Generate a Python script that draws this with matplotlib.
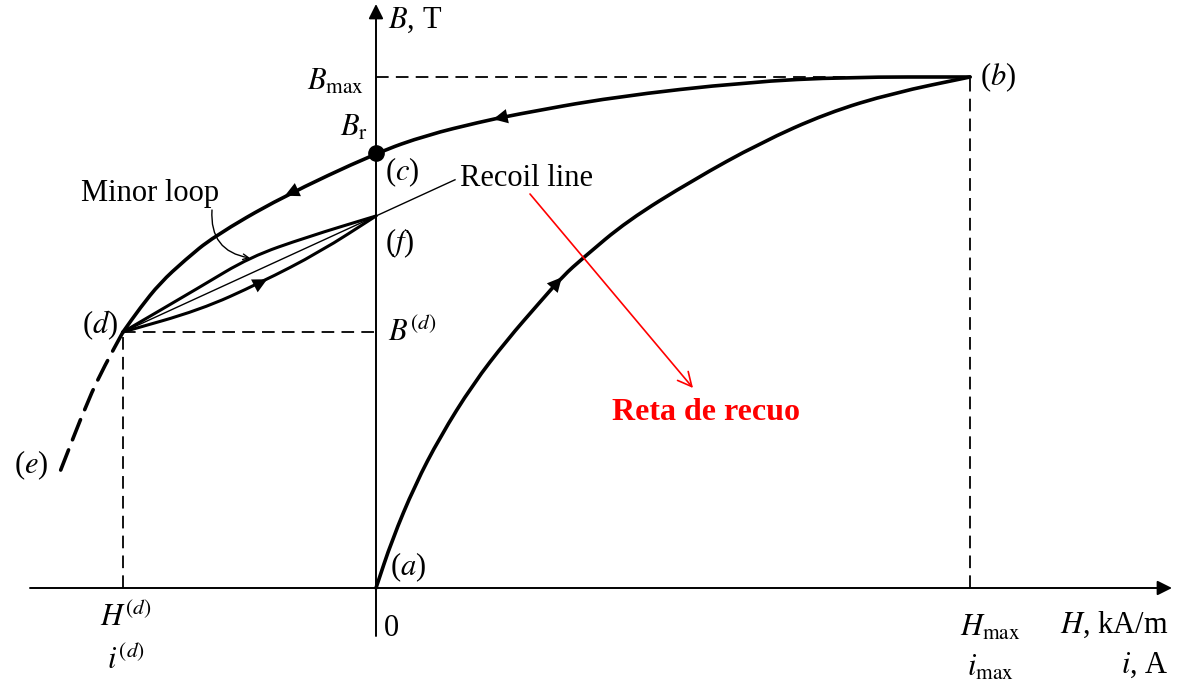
import numpy as np
import matplotlib.pyplot as plt
from matplotlib.path import Path
from matplotlib.patches import PathPatch

plt.rcParams['font.family'] = ['Liberation Serif', 'DejaVu Serif']
plt.rcParams['mathtext.fontset'] = 'stix'

# всё в долях: H / Hmax, B / Bmax
h_initial = [0.0, 0.0269, 0.0657, 0.1077, 0.1633, 0.2205, 0.2761, 0.3148,
             0.3485, 0.4226, 0.5337, 0.6465, 0.7593, 0.8704, 1.0]
b_initial = [0.0, 0.0939, 0.2016, 0.2955, 0.3992, 0.4853, 0.5597, 0.6106,
             0.6458, 0.7182, 0.7984, 0.8708, 0.9295, 0.9687, 1.0]

h_demag = [1.0, 0.7929, 0.6246, 0.3990, 0.2306, 0.1751, 0.0859, 0.0,
           -0.1616, -0.2744, -0.3215, -0.3636, -0.3973, -0.4259]
b_demag = [1.0, 1.0, 0.9902, 0.9609, 0.9256, 0.9119, 0.8865, 0.8513,
           0.7632, 0.6869, 0.6419, 0.5969, 0.5479, 0.501]

h_tail = [-0.4259, -0.4562, -0.4848, -0.5354]
b_tail = [0.501, 0.4364, 0.3679, 0.2172]

h_minor_up = [-0.4259, -0.2963, -0.2121, -0.1162, 0.0]
b_minor_up = [0.501, 0.589, 0.6477, 0.6869, 0.728]
h_minor_lo = [-0.4259, -0.2963, -0.1953, -0.0943, 0.0]
b_minor_lo = [0.501, 0.544, 0.5969, 0.6575, 0.728]

B_R = 0.8513
H_D, B_D = -0.4259, 0.501
B_F = 0.728
H_RECOIL_END = 0.133

# пиксели -> данные (картинка 1187x691, начало координат в (376, 588))
X0, Y0, SX, SY = 376, 588, 594, 511


def px(x, y):
    return (x - X0) / SX, (Y0 - y) / SY


def smooth(h, b):
    # сглаженная ломаная: квадратичные кривые Безье через середины отрезков
    pts = np.column_stack([h, b])
    mids = (pts[:-1] + pts[1:]) / 2
    verts = [pts[0], mids[0]]
    codes = [Path.MOVETO, Path.LINETO]
    for i in range(1, len(pts) - 1):
        verts += [pts[i], mids[i]]
        codes += [Path.CURVE3, Path.CURVE3]
    verts.append(pts[-1])
    codes.append(Path.LINETO)
    return Path(verts, codes)


fig = plt.figure(figsize=(11.87, 6.91), dpi=100)
ax = fig.add_axes([0, 0, 1, 1])
ax.set_xlim(px(0, 0)[0], px(1187, 0)[0])
ax.set_ylim(px(0, 691)[1], px(0, 0)[1])
ax.axis('off')

# оси со стрелками
ax.annotate('', xy=px(1172, 588), xytext=px(30, 588),
            arrowprops=dict(arrowstyle='-|>', color='black', lw=1.4,
                            mutation_scale=22, shrinkA=0, shrinkB=0))
ax.annotate('', xy=px(376, 4), xytext=px(376, 636),
            arrowprops=dict(arrowstyle='-|>', color='black', lw=1.4,
                            mutation_scale=22, shrinkA=0, shrinkB=0))

# пунктир
dash = dict(color='black', lw=1.3, dashes=(7, 4))
ax.plot([0, 1], [1, 1], **dash)
ax.plot([1, 1], [0, 1], **dash)
ax.plot([H_D, 0], [B_D, B_D], **dash)
ax.plot([H_D, H_D], [0, B_D], **dash)

for h, b, lw, ls in [(h_initial, b_initial, 2.6, '-'),
                     (h_demag, b_demag, 2.6, '-'),
                     (h_tail, b_tail, 2.6, (0, (6, 3))),
                     (h_minor_up, b_minor_up, 2.2, '-'),
                     (h_minor_lo, b_minor_lo, 2.2, '-')]:
    ax.add_patch(PathPatch(smooth(h, b), fill=False, ec='black', lw=lw, ls=ls,
                           capstyle='round', joinstyle='round'))

# recoil line
k = (B_F - B_D) / (0 - H_D)
ax.plot([H_D, H_RECOIL_END], [B_D, B_F + k * H_RECOIL_END], color='black', lw=1.0)

ax.plot([0], [B_R], 'o', color='black', ms=11)


def arrow_on(h, b, i, frac=0.5):
    x1, y1 = h[i], b[i]
    x0, y0 = h[i - 1], b[i - 1]
    xm, ym = x0 + (x1 - x0) * frac, y0 + (y1 - y0) * frac
    ax.annotate('', xy=(xm, ym), xytext=(xm - (x1 - x0) * 0.05, ym - (y1 - y0) * 0.05),
                arrowprops=dict(arrowstyle='-|>', color='black', lw=0,
                                mutation_scale=26, shrinkA=0, shrinkB=0))


arrow_on(h_initial, b_initial, 7, 0.95)
arrow_on(h_demag, b_demag, 5, 0.6)
arrow_on(h_demag, b_demag, 8, 0.95)
arrow_on(h_minor_lo, b_minor_lo, 3, 0.12)

# подписи
fs = 22
ax.text(*px(388, 20), '$B$, T', fontsize=fs, va='center', ha='left')
ax.text(*px(364, 82), r'$B_{\rm max}$', fontsize=fs, va='center', ha='right')
ax.text(*px(368, 128), r'$B_{\rm r}$', fontsize=fs, va='center', ha='right')
ax.text(*px(385, 172), '($c$)', fontsize=fs, va='center', ha='left')
ax.text(*px(385, 243), '($f$)', fontsize=fs, va='center', ha='left')
ax.text(*px(388, 332), '$B^{(d)}$', fontsize=fs, va='center', ha='left')
ax.text(*px(118, 325), '($d$)', fontsize=fs, va='center', ha='right')
ax.text(*px(48, 465), '($e$)', fontsize=fs, va='center', ha='right')
ax.text(*px(390, 567), '($a$)', fontsize=fs, va='center', ha='left')
ax.text(*px(980, 77), '($b$)', fontsize=fs, va='center', ha='left')
ax.text(*px(126, 617), '$H^{(d)}$', fontsize=fs, va='center', ha='center')
ax.text(*px(126, 660), '$i^{(d)}$', fontsize=fs, va='center', ha='center')
ax.text(*px(384, 628), '0', fontsize=fs, va='center', ha='left')
ax.text(*px(990, 628), r'$H_{\rm max}$', fontsize=fs, va='center', ha='center')
ax.text(*px(990, 668), r'$i_{\rm max}$', fontsize=fs, va='center', ha='center')
ax.text(*px(1168, 625), '$H$, kA/m', fontsize=fs, va='center', ha='right')
ax.text(*px(1168, 665), '$i$, A', fontsize=fs, va='center', ha='right')

ax.text(*px(150, 193), 'Minor loop', fontsize=fs, va='center', ha='center')
ax.annotate('', xy=px(250, 258), xytext=px(212, 210),
            arrowprops=dict(arrowstyle='->', color='black', lw=1.0,
                            connectionstyle='arc3,rad=0.45', shrinkA=0, shrinkB=0))
ax.text(*px(460, 179), 'Recoil line', fontsize=fs, va='center', ha='left')

ax.annotate('', xy=px(693, 388), xytext=px(530, 194),
            arrowprops=dict(arrowstyle='->', color='red', lw=1.2,
                            mutation_scale=25, shrinkA=0, shrinkB=0))
ax.text(*px(706, 412), 'Reta de recuo', fontsize=23, fontweight='bold',
        color='red', va='center', ha='center')

fig.savefig('out.png', dpi=100)
